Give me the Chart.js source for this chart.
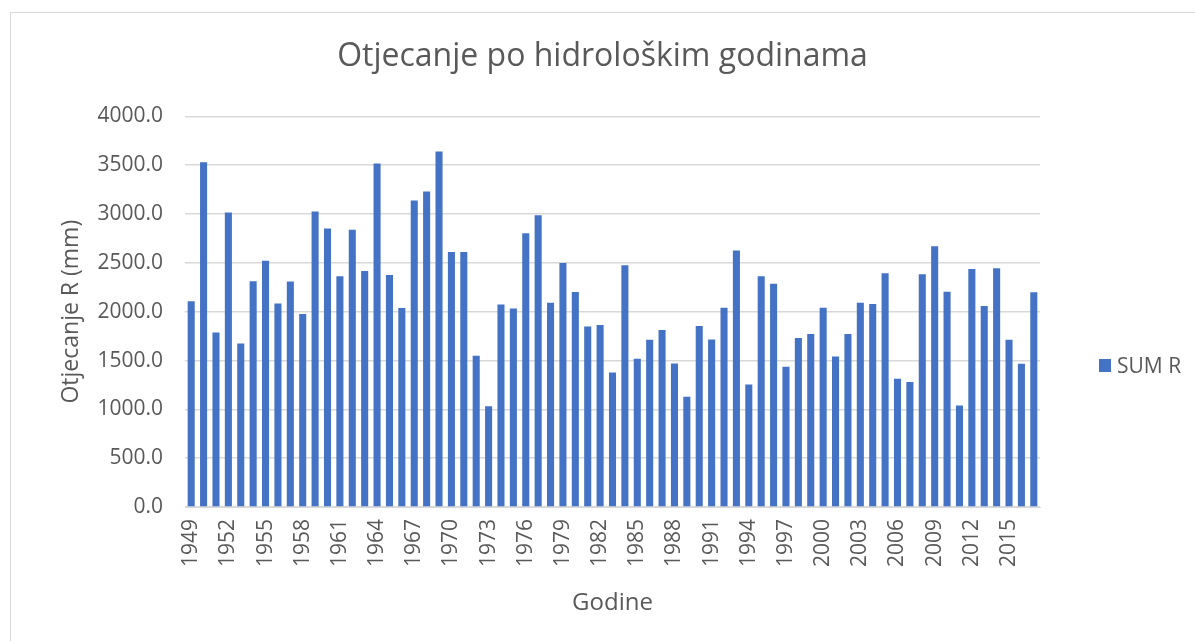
<!DOCTYPE html>
<html>
<head>
<meta charset="utf-8">
<script src="https://cdn.jsdelivr.net/npm/chart.js@4/dist/chart.umd.min.js"></script>
<style>
  html, body { margin: 0; padding: 0; background: #ffffff; }
  #wrap { position: relative; width: 1195px; height: 641px; overflow: hidden; background: #fff; }
  #frame { position: absolute; left: 10px; top: 12px; width: 1300px; height: 800px; border: 1px solid #d9d9d9; box-sizing: border-box; }
  #c { position: absolute; left: 0; top: 0; }
  #legend { position: absolute; left: 1099px; top: 351px; font-family: "Open Sans", sans-serif; font-size: 21px; color: #595959; display: flex; align-items: center; height: 28px; }
  #legend .sw { width: 12px; height: 13px; background: #4472C4; margin-right: 6px; }
</style>
</head>
<body>
<div id="wrap">
  <div id="frame"></div>
  <canvas id="c" width="1195" height="641"></canvas>
  <div id="legend"><span class="sw"></span><span id="legendText"></span></div>
</div>
<script>
const years = [
  "1949","1950","1951","1952","1953","1954","1955","1956","1957","1958",
  "1959","1960","1961","1962","1963","1964","1965","1966","1967","1968",
  "1969","1970","1971","1972","1973","1974","1975","1976","1977","1978",
  "1979","1980","1981","1982","1983","1984","1985","1986","1987","1988",
  "1989","1990","1991","1992","1993","1994","1995","1996","1997","1998",
  "1999","2000","2001","2002","2003","2004","2005","2006","2007","2008",
  "2009","2010","2011","2012","2013","2014","2015","2016","2017"
];
const sumR = [
  2106, 3530, 1788, 3015, 1675, 2311, 2523, 2085, 2308, 1976,
  3026, 2851, 2362, 2838, 2417, 3518, 2376, 2038, 3138, 3231,
  3640, 2612, 2612, 1549, 1033, 2075, 2034, 2803, 2988, 2092,
  2499, 2202, 1849, 1863, 1378, 2475, 1518, 1713, 1812, 1470,
  1128, 1853, 1716, 2041, 2626, 1255, 2362, 2287, 1436, 1730,
  1771, 2041, 1542, 1771, 2092, 2079, 2393, 1313, 1279, 2383,
  2670, 2205, 1039, 2438, 2058, 2444, 1713, 1467, 2198
];
const yTickValues = [0, 500, 1000, 1500, 2000, 2500, 3000, 3500, 4000];
const seriesName = "SUM R";
const chartTitle = "Otjecanje po hidrološkim godinama";
const xTitle = "Godine";
const yTitle = "Otjecanje R (mm)";

document.getElementById('legendText').textContent = seriesName;

const FONT = '"Open Sans", sans-serif';
const TXT = '#595959';
const GRID = '#d9d9d9';

new Chart(document.getElementById('c'), {
  type: 'bar',
  data: {
    labels: years,
    datasets: [{
      label: seriesName,
      data: sumR,
      backgroundColor: '#4472C4',
      borderWidth: 0,
      barPercentage: 0.57,
      categoryPercentage: 1.0,
      yAxisID: 'y'
    }]
  },
  options: {
    responsive: false,
    animation: false,
    devicePixelRatio: 1,
    layout: { padding: { left: 10, right: 0, top: 12, bottom: 0 } },
    plugins: {
      legend: { display: false },
      tooltip: { enabled: false },
      title: {
        display: true,
        text: chartTitle,
        color: TXT,
        font: { family: FONT, size: 32, weight: 'normal' },
        padding: { top: 26, bottom: 40 }
      }
    },
    scales: {
      x: {
        grid: { display: false, drawTicks: false },
        border: { display: true, color: GRID, width: 1 },
        ticks: {
          autoSkip: false,
          maxRotation: 90,
          minRotation: 90,
          padding: 12,
          color: TXT,
          font: { family: FONT, size: 21 },
          callback: function(v, i) { return i % 3 === 0 ? years[i] : ''; }
        },
        title: {
          display: true,
          text: xTitle,
          color: TXT,
          font: { family: FONT, size: 24 },
          padding: { top: 0, bottom: 23 }
        },
        afterFit: function(s) { s.height = 134; }
      },
      y: {
        position: 'left',
        min: 0,
        max: 4000,
        afterBuildTicks: function(s) { s.ticks = yTickValues.map(v => ({ value: v })); },
        grid: { color: GRID, lineWidth: 1.5, drawTicks: false },
        border: { display: false },
        ticks: {
          padding: 22,
          color: TXT,
          font: { family: FONT, size: 21 },
          callback: function(v) { return Number(v).toFixed(1); }
        },
        title: {
          display: true,
          text: yTitle,
          color: TXT,
          font: { family: FONT, size: 23 },
          padding: { top: 48, bottom: 0 }
        },
        afterFit: function(s) { s.width = 175; }
      },
      legendSpace: {
        position: 'right',
        display: true,
        min: 0,
        max: 4000,
        grid: { display: false, drawTicks: false },
        border: { display: false },
        ticks: { display: false },
        afterFit: function(s) { s.width = 155; }
      }
    }
  }
});
</script>
</body>
</html>
